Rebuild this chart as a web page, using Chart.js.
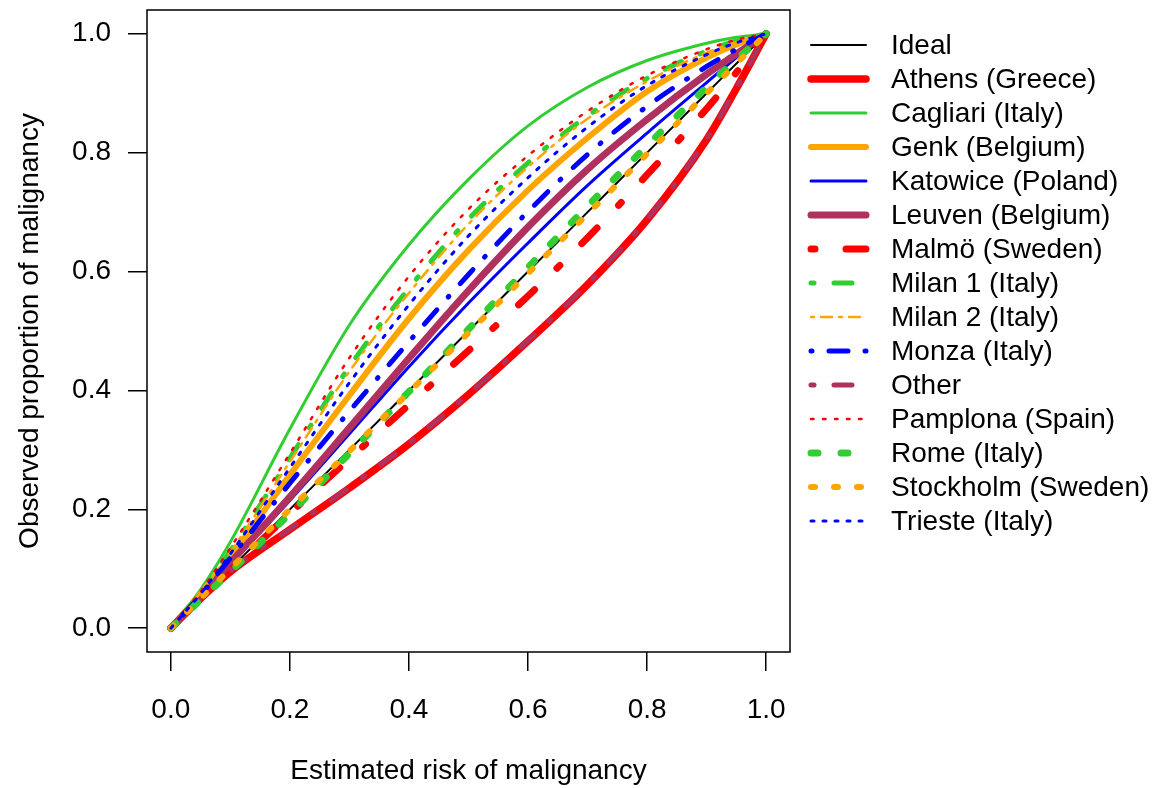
<!DOCTYPE html>
<html><head><meta charset="utf-8">
<script src="https://cdn.jsdelivr.net/npm/chart.js@4.4.1/dist/chart.umd.min.js"></script>
<style>html,body{margin:0;padding:0;background:#fff;}</style>
</head><body>
<canvas id="c" width="1153" height="788"></canvas>
<script>
// ---- data ----
const xValues = [0, 0.05, 0.1, 0.2, 0.3, 0.4, 0.5, 0.6, 0.7, 0.8, 0.9, 0.95, 1];
const tickValues = [0, 0.2, 0.4, 0.6, 0.8, 1.0];
const seriesNames = ["Ideal","Athens (Greece)","Cagliari (Italy)","Genk (Belgium)","Katowice (Poland)","Leuven (Belgium)","Malmö (Sweden)","Milan 1 (Italy)","Milan 2 (Italy)","Monza (Italy)","Other","Pamplona (Spain)","Rome (Italy)","Stockholm (Sweden)","Trieste (Italy)"];
const ideal     = [0, 0.05, 0.1, 0.2, 0.3, 0.4, 0.5, 0.6, 0.7, 0.8, 0.9, 0.95, 1];
const athens    = [0, 0.05, 0.095, 0.166, 0.236, 0.31, 0.393, 0.483, 0.578, 0.687, 0.822, 0.908, 1];
const cagliari  = [0, 0.065, 0.145, 0.335, 0.51, 0.645, 0.755, 0.845, 0.91, 0.955, 0.984, 0.994, 1];
const genk      = [0, 0.058, 0.12, 0.258, 0.392, 0.521, 0.636, 0.737, 0.825, 0.903, 0.96, 0.982, 1];
const katowice  = [0, 0.053, 0.108, 0.215, 0.327, 0.44, 0.547, 0.648, 0.745, 0.833, 0.918, 0.96, 1];
const leuven    = [0, 0.054, 0.11, 0.221, 0.337, 0.454, 0.568, 0.675, 0.772, 0.856, 0.932, 0.966, 1];
const malmo     = [0, 0.05, 0.098, 0.193, 0.285, 0.376, 0.467, 0.559, 0.657, 0.763, 0.874, 0.935, 1];
const milan1    = [0, 0.06, 0.13, 0.286, 0.44, 0.572, 0.688, 0.783, 0.862, 0.925, 0.971, 0.988, 1];
const milan2    = [0, 0.06, 0.128, 0.28, 0.432, 0.564, 0.68, 0.776, 0.857, 0.92, 0.968, 0.986, 1];
const monza     = [0, 0.056, 0.118, 0.244, 0.365, 0.482, 0.595, 0.701, 0.797, 0.878, 0.945, 0.974, 1];
const other     = [0, 0.05, 0.096, 0.167, 0.237, 0.311, 0.394, 0.484, 0.579, 0.688, 0.823, 0.909, 1];
const pamplona  = [0, 0.062, 0.135, 0.294, 0.455, 0.592, 0.705, 0.795, 0.87, 0.93, 0.974, 0.99, 1];
const rome      = [0, 0.048, 0.095, 0.193, 0.294, 0.398, 0.503, 0.607, 0.71, 0.812, 0.91, 0.957, 1];
const stockholm = [0, 0.05, 0.1, 0.2, 0.298, 0.397, 0.497, 0.597, 0.697, 0.798, 0.9, 0.95, 1];
const trieste   = [0, 0.058, 0.125, 0.27, 0.413, 0.544, 0.66, 0.758, 0.843, 0.913, 0.965, 0.985, 1];
const seriesValues = [ideal, athens, cagliari, genk, katowice, leuven, malmo, milan1, milan2, monza, other, pamplona, rome, stockholm, trieste];

// ---- styles ----
const RED = "#FF0000", GREEN = "#32CD32", ORANGE = "#FFA500", BLUE = "#0000FF", MAROON = "#B03060";
const styles = [
  {c:"#000000", w:2,   d:[]},
  {c:RED,    w:7.5, d:[]},
  {c:GREEN,  w:3,   d:[]},
  {c:ORANGE, w:6,   d:[]},
  {c:BLUE,   w:3,   d:[]},
  {c:MAROON, w:7,   d:[]},
  {c:RED,    w:7,   d:[4,31,22,31]},
  {c:GREEN,  w:5,   d:[3,20,18,20]},
  {c:ORANGE, w:2.5, d:[3,7,11,7]},
  {c:BLUE,   w:5,   d:[1,17,19,17]},
  {c:MAROON, w:5,   d:[3,20,18,20]},
  {c:RED,    w:2.5, d:[2.5,9.5]},
  {c:GREEN,  w:7,   d:[7,23]},
  {c:ORANGE, w:6,   d:[4,19]},
  {c:BLUE,   w:3,   d:[3,9]}
];
const FONT = '"Liberation Sans", Arial, sans-serif';
const N = seriesNames.length;

const datasets = seriesNames.map((name, i) => ({
  label: name,
  data: xValues.map((x, j) => ({x: x, y: seriesValues[i][j]})),
  borderColor: styles[i].c,
  backgroundColor: styles[i].c,
  borderWidth: styles[i].w,
  borderDash: styles[i].d,
  borderCapStyle: 'round',
  borderJoinStyle: 'round',
  pointRadius: 0,
  pointHoverRadius: 0,
  showLine: true,
  fill: false,
  cubicInterpolationMode: 'monotone',
  order: N - i
}));

const boxLegend = {
  id: 'boxLegend',
  afterDraw(chart) {
    const ctx = chart.ctx, a = chart.chartArea;
    ctx.save();
    ctx.strokeStyle = '#000';
    ctx.lineWidth = 1.5;
    ctx.setLineDash([]);
    ctx.strokeRect(a.left, a.top, a.right - a.left, a.bottom - a.top);
    // legend
    const x0 = 811, x1 = 866, tx = 891, y0 = 45, step = 34;
    ctx.font = '28px ' + FONT;
    ctx.textBaseline = 'middle';
    ctx.textAlign = 'left';
    chart.data.datasets.forEach((ds, i) => {
      const y = y0 + step * i;
      ctx.beginPath();
      ctx.strokeStyle = ds.borderColor;
      ctx.lineWidth = ds.borderWidth;
      ctx.lineCap = 'round';
      ctx.setLineDash(ds.borderDash || []);
      ctx.lineDashOffset = 0;
      ctx.moveTo(x0, y);
      ctx.lineTo(x1, y);
      ctx.stroke();
      ctx.setLineDash([]);
      ctx.fillStyle = '#000';
      ctx.fillText(ds.label, tx, y + 1);
    });
    ctx.restore();
  }
};

function fixTicks(scale) { scale.ticks = tickValues.map(v => ({value: v})); }

new Chart(document.getElementById('c'), {
  type: 'scatter',
  data: { datasets },
  plugins: [boxLegend],
  options: {
    responsive: false,
    devicePixelRatio: 1,
    animation: false,
    events: [],
    layout: { padding: { top: 10, right: 363, left: 0, bottom: 0 } },
    plugins: { legend: { display: false }, tooltip: { enabled: false } },
    scales: {
      x: {
        type: 'linear', min: -0.04, max: 1.04,
        afterBuildTicks: fixTicks,
        afterFit(s) { s.height = 136; s.paddingLeft = 0; s.paddingRight = 0; s.paddingTop = 0; s.paddingBottom = 0; },
        grid: { drawOnChartArea: false, drawTicks: true, tickLength: 19, color: '#000', lineWidth: 1.5 },
        border: { display: false },
        ticks: { autoSkip: false, maxRotation: 0, padding: 22, color: '#000', font: { size: 28, family: FONT }, callback: v => Number(v).toFixed(1) },
        title: { display: true, text: 'Estimated risk of malignancy', color: '#000', font: { size: 28, family: FONT }, padding: { top: 0, bottom: 0 } }
      },
      y: {
        type: 'linear', min: -0.04, max: 1.04,
        afterBuildTicks: fixTicks,
        afterFit(s) { s.width = 147; s.paddingLeft = 0; s.paddingRight = 0; s.paddingTop = 0; s.paddingBottom = 0; },
        grid: { drawOnChartArea: false, drawTicks: true, tickLength: 19, color: '#000', lineWidth: 1.5 },
        border: { display: false },
        ticks: { autoSkip: false, padding: 17, color: '#000', font: { size: 28, family: FONT }, callback: v => Number(v).toFixed(1) },
        title: { display: true, text: 'Observed proportion of malignancy', color: '#000', font: { size: 28, family: FONT }, padding: { top: 13, bottom: 0 } }
      }
    }
  }
});
</script>
</body></html>
